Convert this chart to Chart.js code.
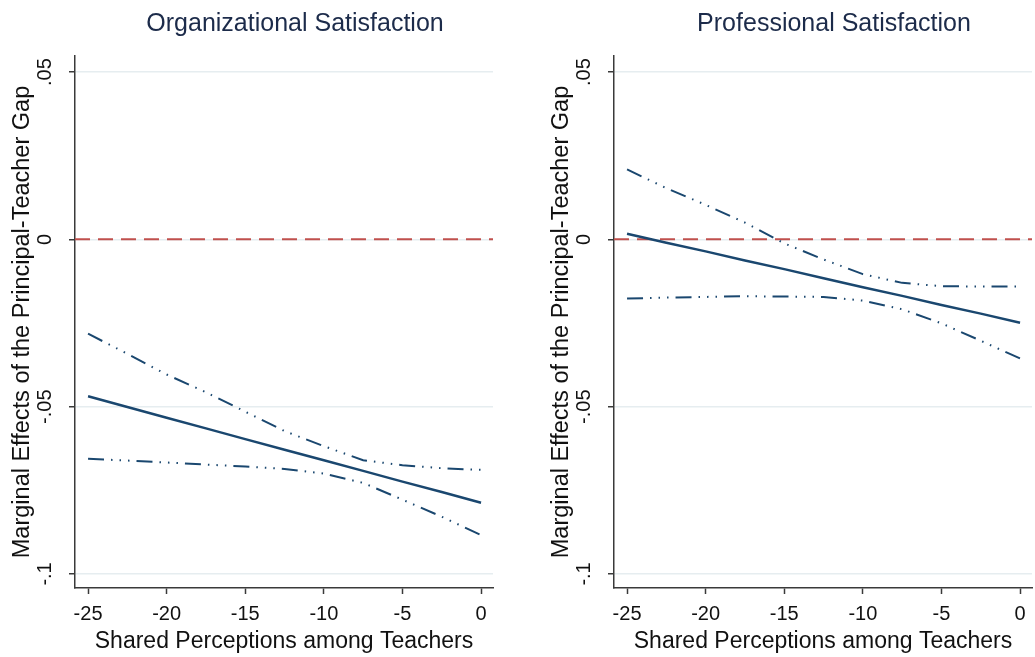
<!DOCTYPE html>
<html>
<head>
<meta charset="utf-8">
<title>Marginal Effects of the Principal-Teacher Gap</title>
<script src="https://cdn.jsdelivr.net/npm/chart.js@4.4.1/dist/chart.umd.min.js"></script>
<style>
  html, body { margin: 0; padding: 0; background: #ffffff; }
  #wrap { position: relative; width: 1035px; height: 657px; overflow: hidden; }
  canvas { position: absolute; top: 0; }
</style>
</head>
<body>
<div id="wrap">
  <canvas id="orgPanel" width="539" height="657" style="left:0px"></canvas>
  <canvas id="proPanel" width="496" height="657" style="left:539px"></canvas>
</div>
<script>
// Shared perceptions among teachers (evaluation points)
const xValues = [-25, -22.5, -20, -17.5, -15, -12.5, -10, -7.5, -5, -2.5, 0];

// Organizational satisfaction: marginal effect and 95% bounds
const orgEffect = [-0.0469, -0.0501, -0.0533, -0.0565, -0.0597, -0.0629, -0.0660, -0.0692, -0.0724, -0.0755, -0.0787];
const orgUpper  = [-0.0282, -0.0342, -0.0404, -0.0457, -0.0515, -0.0573, -0.0618, -0.0660, -0.0675, -0.0684, -0.0689];
const orgLower  = [-0.0656, -0.0661, -0.0667, -0.0673, -0.0679, -0.0686, -0.0700, -0.0728, -0.0778, -0.0829, -0.0884];

// Professional satisfaction: marginal effect and 95% bounds
const proEffect = [0.0017, -0.0010, -0.0036, -0.0063, -0.0089, -0.0116, -0.0143, -0.0169, -0.0196, -0.0222, -0.0249];
const proUpper  = [0.0209, 0.0153, 0.0103, 0.0050, -0.0012, -0.0060, -0.0104, -0.0130, -0.0140, -0.0141, -0.0141];
const proLower  = [-0.0177, -0.0174, -0.0172, -0.0170, -0.0171, -0.0172, -0.0183, -0.0209, -0.0251, -0.0303, -0.0356];

// Axis ticks and labels
const xTicks = [-25, -20, -15, -10, -5, 0];
const xTickLabels = ['-25', '-20', '-15', '-10', '-5', '0'];
const yTicks = [-0.1, -0.05, 0, 0.05];
const yTickLabels = ['-.1', '-.05', '0', '.05'];

const panelTitles = ['Organizational Satisfaction', 'Professional Satisfaction'];
const xAxisTitle = 'Shared Perceptions among Teachers';
const yAxisTitle = 'Marginal Effects of the Principal-Teacher Gap';
const referenceValue = 0;

const FONT = "'Liberation Sans', Arial, Helvetica, sans-serif";
const NAVY = '#1a476f';
const INK = '#111111';
const AXIS = '#3a3a3a';

// Panel heading drawn above the plot region
const panelTitlePlugin = {
  id: 'panelTitle',
  afterDraw(chart, args, opts) {
    const ctx = chart.ctx;
    ctx.save();
    ctx.font = `${opts.size}px ${FONT}`;
    ctx.fillStyle = opts.color;
    ctx.textAlign = 'center';
    ctx.textBaseline = 'middle';
    ctx.fillText(opts.text, opts.x, opts.y);
    ctx.restore();
  }
};

// Dashed horizontal reference line across the plot region
const refLinePlugin = {
  id: 'refLine',
  beforeDatasetsDraw(chart, args, opts) {
    const {ctx, chartArea} = chart;
    const y = chart.scales.y.getPixelForValue(opts.value);
    ctx.save();
    ctx.strokeStyle = opts.color;
    ctx.lineWidth = opts.width;
    ctx.setLineDash(opts.dash);
    ctx.beginPath();
    ctx.moveTo(chartArea.left, y);
    ctx.lineTo(chartArea.right, y);
    ctx.stroke();
    ctx.restore();
  }
};

const ciDash = [16, 7, 1.5, 7, 1.5, 7, 1.5, 7];

function toPoints(values) {
  return xValues.map((x, i) => ({x: x, y: values[i]}));
}

function makePanel(canvasId, title, effect, upper, lower, rightPad) {
  return new Chart(document.getElementById(canvasId), {
    type: 'line',
    data: {
      datasets: [
        { data: toPoints(upper), borderColor: NAVY, borderWidth: 2, borderDash: ciDash, pointRadius: 0, tension: 0 },
        { data: toPoints(lower), borderColor: NAVY, borderWidth: 2, borderDash: ciDash, pointRadius: 0, tension: 0 },
        { data: toPoints(effect), borderColor: NAVY, borderWidth: 2.5, pointRadius: 0, tension: 0 }
      ]
    },
    options: {
      responsive: false,
      animation: false,
      devicePixelRatio: 1,
      layout: { padding: { top: 56, left: 0, right: rightPad, bottom: 0 } },
      plugins: {
        legend: { display: false },
        tooltip: { enabled: false },
        title: { display: false },
        panelTitle: { text: title, x: 295, y: 24, size: 25, color: '#1c2b4a' },
        refLine: { value: referenceValue, color: '#c0504d', width: 2, dash: [15, 8] }
      },
      scales: {
        x: {
          type: 'linear',
          min: -25.83,
          max: 0.76,
          afterBuildTicks: s => { s.ticks = xTicks.map(v => ({value: v})); },
          afterFit: s => { s.height = 69; },
          grid: { drawOnChartArea: false, drawTicks: true, tickLength: 6, tickColor: AXIS, tickWidth: 1.5 },
          border: { display: true, color: AXIS, width: 1.5 },
          ticks: {
            callback: (v, i) => xTickLabels[i],
            font: { family: FONT, size: 20 },
            color: INK,
            padding: 8,
            maxRotation: 0,
            minRotation: 0,
            autoSkip: false
          },
          title: {
            display: true,
            text: xAxisTitle,
            font: { family: FONT, size: 23 },
            color: INK,
            padding: { top: 0, bottom: 2 }
          }
        },
        y: {
          type: 'linear',
          min: -0.1042,
          max: 0.0548,
          afterBuildTicks: s => { s.ticks = yTicks.map(v => ({value: v})); },
          afterFit: s => { s.width = 75; },
          grid: { drawOnChartArea: true, color: '#e6edf0', lineWidth: 1.5, tickLength: 6, tickColor: AXIS, tickWidth: 1.5 },
          border: { display: true, color: AXIS, width: 1.5 },
          ticks: {
            callback: (v, i) => yTickLabels[i],
            font: { family: FONT, size: 20 },
            color: INK,
            minRotation: 90,
            maxRotation: 90,
            crossAlign: 'center',
            padding: 6,
            autoSkip: false
          },
          title: {
            display: true,
            text: yAxisTitle,
            font: { family: FONT, size: 23.5 },
            color: INK,
            padding: { top: 8, bottom: 0 }
          }
        }
      }
    },
    plugins: [panelTitlePlugin, refLinePlugin]
  });
}

makePanel('orgPanel', panelTitles[0], orgEffect, orgUpper, orgLower, 46);
makePanel('proPanel', panelTitles[1], proEffect, proUpper, proLower, 3);
</script>
</body>
</html>
